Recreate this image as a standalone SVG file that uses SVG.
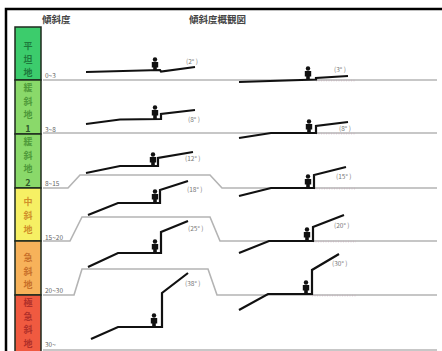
<svg xmlns="http://www.w3.org/2000/svg" xmlns:xlink="http://www.w3.org/1999/xlink" width="442" height="351" viewBox="0 0 442 351">
  <style>
    text { font-family: "Noto Sans CJK JP", "Noto Sans", sans-serif; }
    .frame { stroke: #000; stroke-width: 2.5; fill: none; }
    .band { stroke: #1e2a1e; stroke-width: 1.5; }
    .cat { font-size: 9px; text-anchor: middle; font-weight: bold; }
    .head { font-size: 9.5px; fill: #444; font-weight: bold; }
    .range { font-size: 6.5px; fill: #666; }
    .deg { font-size: 6.5px; fill: #777; }
    .ground { stroke: #b4b4b4; stroke-width: 1.6; fill: none; }
    .dots { stroke: #c8b8c0; stroke-width: 1.4; stroke-dasharray: 1 1.5; fill: none; }
    .slope { stroke: #111; stroke-width: 2.2; fill: none; stroke-linejoin: miter; }
  </style>
  <defs>
    <g id="person">
      <circle cx="0" cy="-11.5" r="2.2" fill="#111"/>
      <path d="M-3.2,-9 H3.2 V-3.5 H1.8 V0 H-1.8 V-3.5 H-3.2 Z" fill="#111"/>
    </g>
  </defs>

  <rect x="0" y="0" width="442" height="351" fill="#fff"/>
  <path class="frame" d="M6,351 V9 H442"/>

  <!-- headings -->
  <text class="head" x="42" y="23">傾斜度</text>
  <text class="head" x="189" y="23">傾斜度概観図</text>

  <!-- slope classes -->
  <g id="cls-flat">
    <rect class="band" x="15" y="27" width="26" height="53" fill="#3ccc6c"/>
    <text class="cat" x="28" y="49" fill="#1d7a3c">平</text>
    <text class="cat" x="28" y="62.5" fill="#1d7a3c">坦</text>
    <text class="cat" x="28" y="76" fill="#1d7a3c">地</text>
  </g>
  <g id="cls-gentle1">
    <rect class="band" x="15" y="80" width="26" height="54" fill="#8ad96a"/>
    <text class="cat" x="28" y="91" fill="#4f9a3a">緩</text>
    <text class="cat" x="28" y="104.5" fill="#4f9a3a">斜</text>
    <text class="cat" x="28" y="118" fill="#4f9a3a">地</text>
    <text class="cat" x="28" y="131.5" fill="#2f5a2a">1</text>
  </g>
  <g id="cls-gentle2">
    <rect class="band" x="15" y="134" width="26" height="54" fill="#8ad96a"/>
    <text class="cat" x="28" y="145" fill="#4f9a3a">緩</text>
    <text class="cat" x="28" y="158.5" fill="#4f9a3a">斜</text>
    <text class="cat" x="28" y="172" fill="#4f9a3a">地</text>
    <text class="cat" x="28" y="185.5" fill="#2f5a2a">2</text>
  </g>
  <g id="cls-medium">
    <rect class="band" x="15" y="188" width="26" height="53" fill="#f6f064"/>
    <text class="cat" x="28" y="205" fill="#d0902a">中</text>
    <text class="cat" x="28" y="219" fill="#d0902a">斜</text>
    <text class="cat" x="28" y="233" fill="#d0902a">地</text>
  </g>
  <g id="cls-steep">
    <rect class="band" x="15" y="241" width="26" height="54" fill="#f7b25a"/>
    <text class="cat" x="28" y="261" fill="#c8702a">急</text>
    <text class="cat" x="28" y="274.5" fill="#c8702a">斜</text>
    <text class="cat" x="28" y="288" fill="#c8702a">地</text>
  </g>
  <g id="cls-very-steep">
    <rect class="band" x="15" y="295" width="26" height="58" fill="#f05a40"/>
    <text class="cat" x="28" y="306" fill="#b0302a">極</text>
    <text class="cat" x="28" y="319.5" fill="#b0302a">急</text>
    <text class="cat" x="28" y="333" fill="#b0302a">斜</text>
    <text class="cat" x="28" y="346.5" fill="#b0302a">地</text>
  </g>

  <!-- range labels -->
  <text class="range" x="45" y="78">0~3</text>
  <text class="range" x="45" y="132">3~8</text>
  <text class="range" x="45" y="186">8~15</text>
  <text class="range" x="45" y="240">15~20</text>
  <text class="range" x="45" y="293">20~30</text>
  <text class="range" x="45" y="347">30~</text>

  <!-- ground lines and slope profiles -->
  <g id="profiles">
    <g id="row-0-3">
      <path class="ground" d="M43,80 H437"/>
      <path class="dots" d="M316,80.5 H356"/>
      <path class="slope" d="M86,72 L160,70 L161,71.5 L195,67"/>
      <path class="slope" d="M239,82 L316,79.5 L316,78 L348,76"/>
      <use xlink:href="#person" x="155" y="71"/>
      <use xlink:href="#person" x="308" y="80"/>
      <text class="deg" x="186" y="64">(2° )</text>
      <text class="deg" x="334" y="72">(3° )</text>
    </g>
    <g id="row-3-8">
      <path class="ground" d="M43,133 H437"/>
      <path class="dots" d="M316,133.5 H356"/>
      <path class="slope" d="M86,124 L120,119.5 L161,119 L161,114 L195,110"/>
      <path class="slope" d="M239,138 L271,133 L316,133 L316,126 L348,122"/>
      <use xlink:href="#person" x="155" y="119"/>
      <use xlink:href="#person" x="309" y="133"/>
      <text class="deg" x="188" y="122">(8° )</text>
      <text class="deg" x="339" y="131">(8° )</text>
    </g>
    <g id="row-8-15">
      <path class="ground" d="M43,188 H68 L80,175 H210 L222,188 H437"/>
      <path class="dots" d="M314,188.5 H356"/>
      <path class="slope" d="M86,173 L120,166 L158,166 L158,158 L193,152"/>
      <path class="slope" d="M239,196 L271,188 L314,188 L314,175 L346,167"/>
      <use xlink:href="#person" x="153" y="166"/>
      <use xlink:href="#person" x="308" y="188"/>
      <text class="deg" x="185" y="161">(12° )</text>
      <text class="deg" x="336" y="179">(15° )</text>
    </g>
    <g id="row-15-20">
      <path class="ground" d="M43,241 H70 L82,217 H210 L220,241 H437"/>
      <path class="dots" d="M313,241.5 H356"/>
      <path class="slope" d="M88,215 L118,203 L160,203 L160,190 L188,181"/>
      <path class="slope" d="M239,253 L269,241 L313,241 L313,227 L344,215"/>
      <use xlink:href="#person" x="155" y="203"/>
      <use xlink:href="#person" x="307" y="241"/>
      <text class="deg" x="187" y="192">(18° )</text>
      <text class="deg" x="334" y="228">(20° )</text>
    </g>
    <g id="row-20-30">
      <path class="ground" d="M43,295 H74 L82,269 H208 L217,295 H437"/>
      <path class="dots" d="M312,295.5 H356"/>
      <path class="slope" d="M88,267 L118,253 L161,253 L161,232 L188,221"/>
      <path class="slope" d="M239,310 L268,294 L312,294 L312,270 L339,254"/>
      <use xlink:href="#person" x="155" y="253"/>
      <use xlink:href="#person" x="306" y="294"/>
      <text class="deg" x="188" y="231">(25° )</text>
      <text class="deg" x="332" y="266">(30° )</text>
    </g>
    <g id="row-30">
      <path class="ground" d="M43,350 H437"/>
      <path class="slope" d="M91,339 L118,327 L162,327 L162,293 L188,273"/>
      <use xlink:href="#person" x="154" y="327"/>
      <text class="deg" x="185" y="286">(38° )</text>
    </g>
  </g>
</svg>
